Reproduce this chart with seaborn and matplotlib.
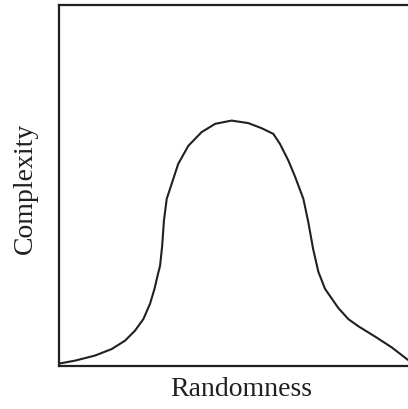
import matplotlib
matplotlib.use("Agg")
import matplotlib.pyplot as plt
import seaborn as sns
import pandas as pd

# Values (arbitrary units, 0-10 on both axes)
randomness = [0.0, 0.45, 1.02, 1.50, 1.88, 2.17, 2.41, 2.60, 2.73, 2.83, 2.89,
              2.95, 3.00, 3.08, 3.22, 3.41, 3.70, 4.08, 4.47, 4.94, 5.42, 5.80,
              6.14, 6.33, 6.57, 6.76, 7.00, 7.14, 7.28, 7.43, 7.62, 7.72, 8.00,
              8.29, 8.58, 9.05, 9.53, 10.0]
complexity = [0.06, 0.14, 0.28, 0.46, 0.69, 0.97, 1.29, 1.71, 2.13, 2.54, 2.77,
              3.32, 4.01, 4.62, 5.03, 5.59, 6.09, 6.47, 6.70, 6.79, 6.72, 6.58,
              6.42, 6.14, 5.68, 5.24, 4.62, 3.98, 3.23, 2.60, 2.13, 1.99, 1.60,
              1.29, 1.09, 0.81, 0.51, 0.16]

x_label = "Randomness"
y_label = "Complexity"

df = pd.DataFrame({x_label: randomness, y_label: complexity})

sns.set_style("white")
plt.rcParams["font.family"] = ["Liberation Serif", "DejaVu Serif"]

ink = "#231f20"
fig = plt.figure(figsize=(4.08, 4.10), dpi=100)
ax = fig.add_axes([59.3 / 408, 43.3 / 410, 348.7 / 408, 361 / 410])

sns.lineplot(data=df, x=x_label, y=y_label, sort=False, ax=ax,
             color=ink, linewidth=1.5, estimator=None)

ax.set_xlim(0, 10)
ax.set_ylim(0, 10)
ax.set_xticks([])
ax.set_yticks([])
for side in ["left", "top", "bottom"]:
    ax.spines[side].set_visible(True)
    ax.spines[side].set_color(ink)
    ax.spines[side].set_linewidth(1.6)
ax.spines["right"].set_visible(False)

ax.set_xlabel(x_label, fontsize=20, color=ink)
ax.set_ylabel(y_label, fontsize=20, color=ink)
ax.xaxis.set_label_coords(0.523, -0.0285)
ax.yaxis.set_label_coords(-0.062, 0.494)

fig.savefig("out.png", dpi=100)
